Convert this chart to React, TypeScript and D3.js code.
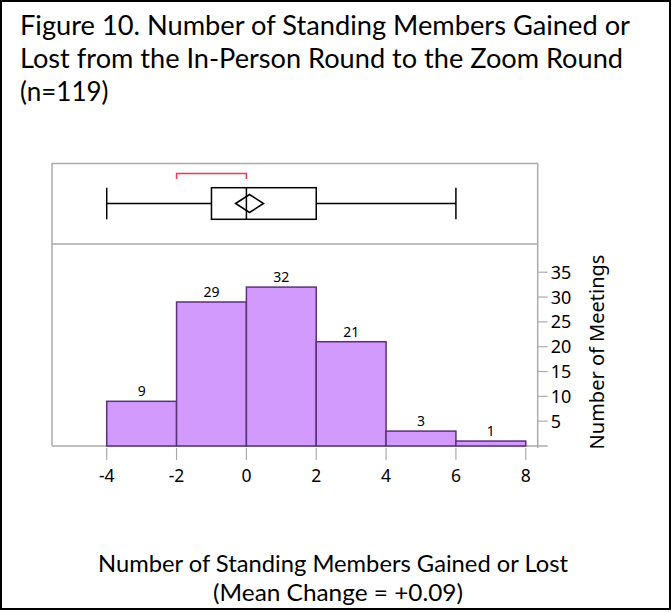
import React from "react";
import * as d3 from "d3";

const binStarts = [-4, -2, 0, 2, 4, 6];
const binWidth = 2;
const counts = [9, 29, 32, 21, 3, 1];
const xTicks = [-4, -2, 0, 2, 4, 6, 8];
const yTicks = [5, 10, 15, 20, 25, 30, 35];
const boxStats = { min: -4, q1: -1, median: 0, q3: 2, max: 6, mean: 0.09, ciLow: -0.31, ciHigh: 0.49 };
const shortestHalf = [-2, 0];
const titleLines = [
  "Figure 10. Number of Standing Members Gained or",
  "Lost from the In-Person Round to the Zoom Round",
  "(n=119)",
];
const xTitleLines = ["Number of Standing Members Gained or Lost", "(Mean Change =  +0.09)"];
const yTitle = "Number of Meetings";

export default function App() {
  const W = 672, H = 612;
  const left = 52, right = 537.7;
  const boxTop = 163.5, split = 244, base = 446;
  const x = d3.scaleLinear().domain([-5.567, 8.342]).range([left, right]);
  const y = d3.scaleLinear().domain([0, 35]).range([base, 272.2]);
  const gray = "#ababab";
  const fill = "#d29afc";
  const stroke = "#5a3277";
  const by = 203.5; // box center
  const bh = 15.8;
  const mx = x(boxStats.mean);
  const dw = x(boxStats.ciHigh) - mx;
  const dh = 9;
  const tickFont = "'Noto Sans', 'Open Sans', sans-serif";
  const titleFont = "Lato, 'Open Sans', sans-serif";

  return (
    <svg width={W} height={H} style={{ position: "absolute", left: 0, top: 0, background: "#fff" }}>
      <rect x={1} y={1} width={W - 3} height={H - 4} fill="#fff" stroke="#000" strokeWidth={2} />
      {titleLines.map((t, i) => (
        <text key={i} x={20} y={34.5 + i * 33} fontFamily={titleFont} fontSize={26} fill="#000"
          textLength={i === 0 ? 610 : i === 1 ? 603 : undefined} lengthAdjust="spacingAndGlyphs">
          {t}
        </text>
      ))}

      {/* box plot panel */}
      <rect x={left} y={boxTop} width={right - left} height={split - boxTop} fill="none" stroke={gray} strokeWidth={1.5} />
      <path d={`M${x(shortestHalf[0])},${boxTop + 15.5}V${boxTop + 10}H${x(shortestHalf[1])}V${boxTop + 15.5}`}
        fill="none" stroke="#f0384f" strokeWidth={1.5} />
      <line x1={x(boxStats.min)} x2={x(boxStats.q1)} y1={by} y2={by} stroke="#000" strokeWidth={1.5} />
      <line x1={x(boxStats.q3)} x2={x(boxStats.max)} y1={by} y2={by} stroke="#000" strokeWidth={1.5} />
      <line x1={x(boxStats.min)} x2={x(boxStats.min)} y1={by - bh} y2={by + bh} stroke="#000" strokeWidth={1.5} />
      <line x1={x(boxStats.max)} x2={x(boxStats.max)} y1={by - bh} y2={by + bh} stroke="#000" strokeWidth={1.5} />
      <rect x={x(boxStats.q1)} y={by - bh} width={x(boxStats.q3) - x(boxStats.q1)} height={2 * bh} fill="none" stroke="#000" strokeWidth={1.5} />
      <line x1={x(boxStats.median)} x2={x(boxStats.median)} y1={by - bh} y2={by + bh} stroke="#000" strokeWidth={1.5} />
      <path d={`M${mx - dw},${by}L${mx},${by - dh}L${mx + dw},${by}L${mx},${by + dh}Z`} fill="none" stroke="#000" strokeWidth={1.5} />

      {/* histogram panel */}
      <line x1={left} x2={left} y1={split} y2={base} stroke={gray} strokeWidth={1.5} />
      <line x1={left} x2={right + 10} y1={base} y2={base} stroke={gray} strokeWidth={1.5} />
      <line x1={right} x2={right} y1={split} y2={base + 2} stroke={gray} strokeWidth={1.5} />
      {binStarts.map((b, i) => (
        <g key={i}>
          <rect x={x(b)} y={y(counts[i])} width={x(b + binWidth) - x(b)} height={base - y(counts[i])}
            fill={fill} stroke={stroke} strokeWidth={1.5} />
          <text x={x(b + binWidth / 2)} y={y(counts[i]) - 5} textAnchor="middle" fontFamily={tickFont} fontSize={14} fill="#000">
            {counts[i]}
          </text>
        </g>
      ))}
      {xTicks.map((t) => (
        <g key={t}>
          <line x1={x(t)} x2={x(t)} y1={base + 2} y2={base + 14} stroke={gray} strokeWidth={1.2} />
          <text x={x(t)} y={482} textAnchor="middle" fontFamily={tickFont} fontSize={17.5} fill="#000">{t}</text>
        </g>
      ))}
      {yTicks.map((t) => (
        <g key={t}>
          <line x1={right} x2={right + 10} y1={y(t)} y2={y(t)} stroke={gray} strokeWidth={1.2} />
          <text x={right + 13} y={y(t)} dy="0.36em" fontFamily={tickFont} fontSize={18} fill="#000">{t}</text>
        </g>
      ))}
      <text transform={`translate(604,352) rotate(-90)`} textAnchor="middle" fontFamily={tickFont} fontSize={20} fill="#000">
        {yTitle}
      </text>

      {xTitleLines.map((t, i) => (
        <text key={i} x={i === 0 ? 333 : 338} y={572 + i * 29} textAnchor="middle" fontFamily={titleFont} fontSize={23.5} fill="#000"
          textLength={i === 0 ? 470 : 250} lengthAdjust="spacingAndGlyphs">
          {t}
        </text>
      ))}
    </svg>
  );
}
